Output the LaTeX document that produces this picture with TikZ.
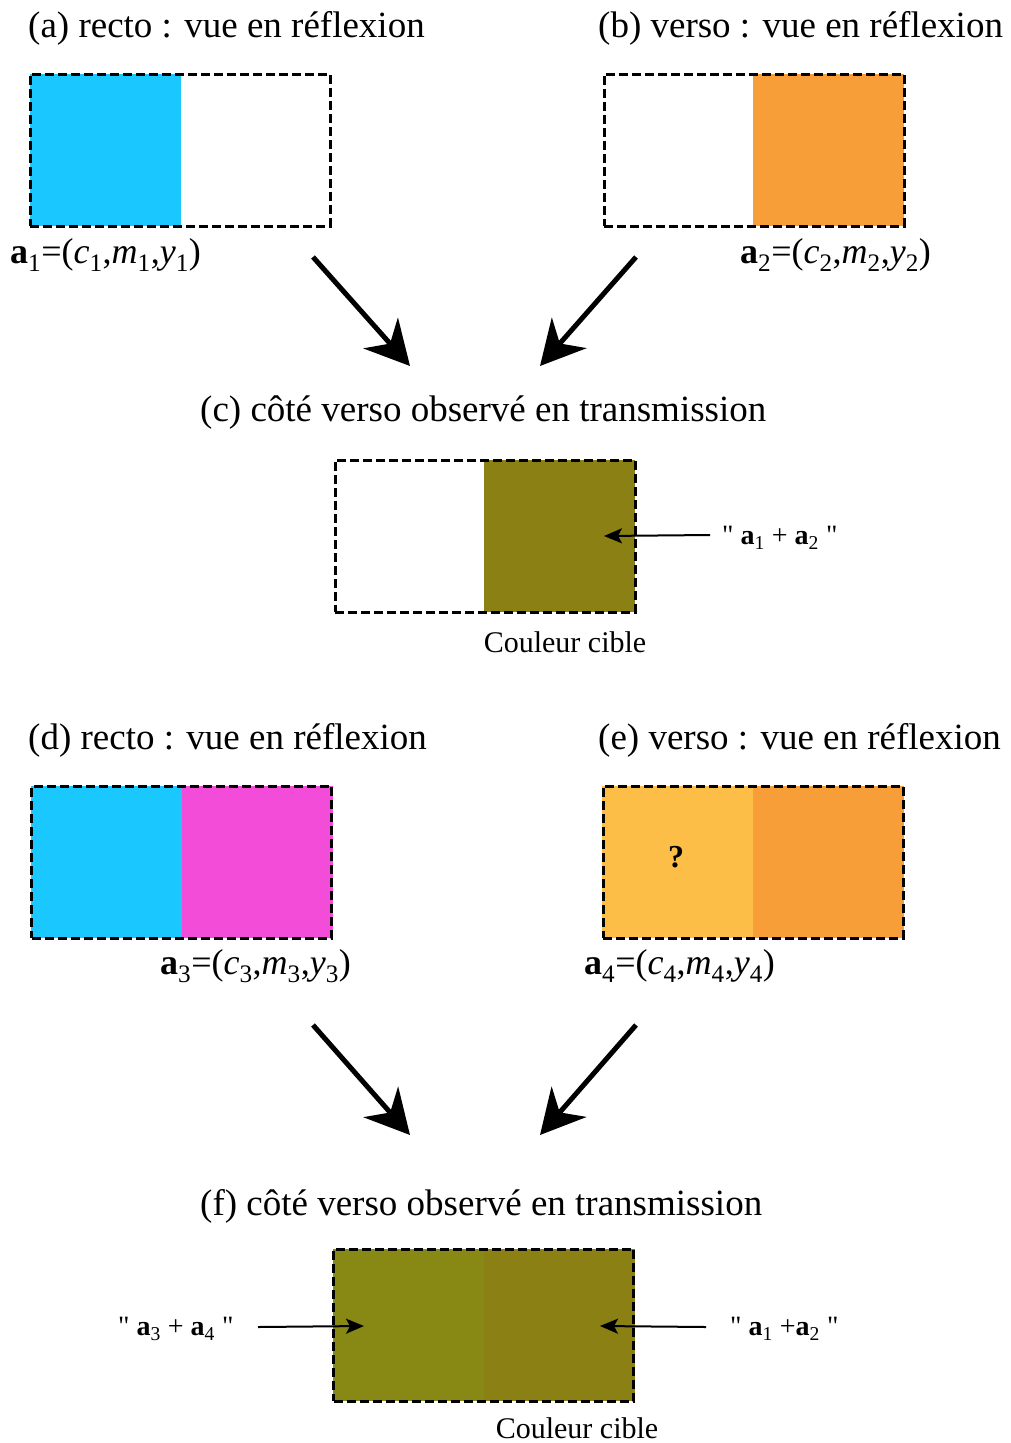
\documentclass[tikz,border=0pt]{standalone}
\usepackage{fontspec}
\setmainfont{Liberation Serif}
\usetikzlibrary{arrows.meta}
\definecolor{cyanc}{RGB}{26,200,255}
\definecolor{orangec}{RGB}{247,158,56}
\definecolor{olivec}{RGB}{138,128,20}
\definecolor{oliveg}{RGB}{136,136,20}
\definecolor{magc}{RGB}{242,76,216}
\definecolor{yelc}{RGB}{253,190,72}
\newcommand{\avec}[1]{\textbf{a}\textsubscript{#1}=(\textit{c}\textsubscript{#1},\textit{m}\textsubscript{#1},\textit{y}\textsubscript{#1})}
\newcommand{\qq}{\textquotedbl}
\begin{document}
\begin{tikzpicture}[x=1pt,y=-1pt,
  title/.style={anchor=west, inner sep=0pt, font=\fontsize{37}{44}\selectfont},
  lab/.style={anchor=west, inner sep=0pt, font=\fontsize{36}{42}\selectfont},
  small/.style={anchor=west, inner sep=0pt, font=\fontsize{28}{32}\selectfont},
  cible/.style={inner sep=0pt, font=\fontsize{30}{34}\selectfont},
  half/.style={minimum width=151pt, minimum height=152pt, inner sep=0pt, outer sep=0pt, anchor=north west},
  frame/.style={draw, line width=3pt, dash pattern=on 9pt off 4pt, minimum width=300pt, minimum height=152pt, inner sep=0pt},
  bigarrow/.style={line width=5pt, -{Stealth[length=44pt,width=46pt,inset=14pt]}},
  thinarrow/.style={line width=2pt, -{Stealth[length=18pt,width=15pt,inset=4pt]}}]
\useasboundingbox (0,0) rectangle (1010,1443);

% (a)
\node[title] (ta) at (28,28) {(a) recto : vue en réflexion};
\node[half, fill=cyanc] (ha1) at (30,74) {};
\node[half] (ha2) at (181,74) {};
\node[frame] (ra) at (180,150) {};
\node[lab] (la) at (10,255) {\avec{1}};

% (b)
\node[title] (tb) at (598,28) {(b) verso : vue en réflexion};
\node[half] (hb1) at (604,74) {};
\node[half, fill=orangec] (hb2) at (753,74) {};
\node[frame] (rb) at (754,150) {};
\node[lab] (lb) at (740,255) {\avec{2}};

% arrows to (c)
\coordinate (sa) at (313,257);
\coordinate (ea) at (410,366);
\coordinate (sb) at (636,257);
\coordinate (eb) at (540,366);
\draw[bigarrow] (sa) -- (ea);
\draw[bigarrow] (sb) -- (eb);

% (c)
\node[title] (tc) at (200,413) {(c) côté verso observé en transmission};
\node[half] (hc1) at (336,460) {};
\node[half, fill=olivec] (hc2) at (484,460) {};
\node[frame] (rc) at (485,536) {};
\node[small] (lc) at (722,538) {\qq{} \textbf{a}\textsubscript{1} + \textbf{a}\textsubscript{2} \qq};
\coordinate (sc) at (710,535);
\coordinate (ec) at (604,536);
\draw[thinarrow] (sc) -- (ec);
\node[cible] (cc) at (565,642) {Couleur cible};

% (d)
\node[title] (td) at (28,740) {(d) recto : vue en réflexion};
\node[half, fill=cyanc] (hd1) at (31,786) {};
\node[half, fill=magc] (hd2) at (182,786) {};
\node[frame] (rd) at (181.5,862) {};
\node[lab] (ld) at (160,966) {\avec{3}};

% (e)
\node[title] (te) at (598,740) {(e) verso : vue en réflexion};
\node[half, fill=yelc] (he1) at (602,786) {};
\node[half, fill=orangec] (he2) at (753,786) {};
\node[frame] (re) at (753,862) {};
\node[inner sep=0pt, font=\fontsize{32}{36}\selectfont\bfseries] (q) at (676,857) {?};
\node[lab] (le) at (584,966) {\avec{4}};

% arrows to (f)
\coordinate (sd) at (313,1025);
\coordinate (ed) at (410,1135);
\coordinate (se) at (636,1025);
\coordinate (ee) at (540,1135);
\draw[bigarrow] (sd) -- (ed);
\draw[bigarrow] (se) -- (ee);

% (f)
\node[title] (tf) at (200,1206) {(f) côté verso observé en transmission};
\node[half, fill=oliveg] (hf1) at (333,1249) {};
\node[half, fill=olivec] (hf2) at (484,1249) {};
\node[frame] (rf) at (483.5,1325) {};
\node[small] (lf1) at (118,1329) {\qq{} \textbf{a}\textsubscript{3} + \textbf{a}\textsubscript{4} \qq};
\node[small] (lf2) at (730,1329) {\qq{} \textbf{a}\textsubscript{1} +\textbf{a}\textsubscript{2} \qq};
\coordinate (sf1) at (258,1327);
\coordinate (ef1) at (364,1326);
\coordinate (sf2) at (706,1327);
\coordinate (ef2) at (600,1326);
\draw[thinarrow] (sf1) -- (ef1);
\draw[thinarrow] (sf2) -- (ef2);
\node[cible] (cf) at (577,1428) {Couleur cible};
\end{tikzpicture}
\end{document}
